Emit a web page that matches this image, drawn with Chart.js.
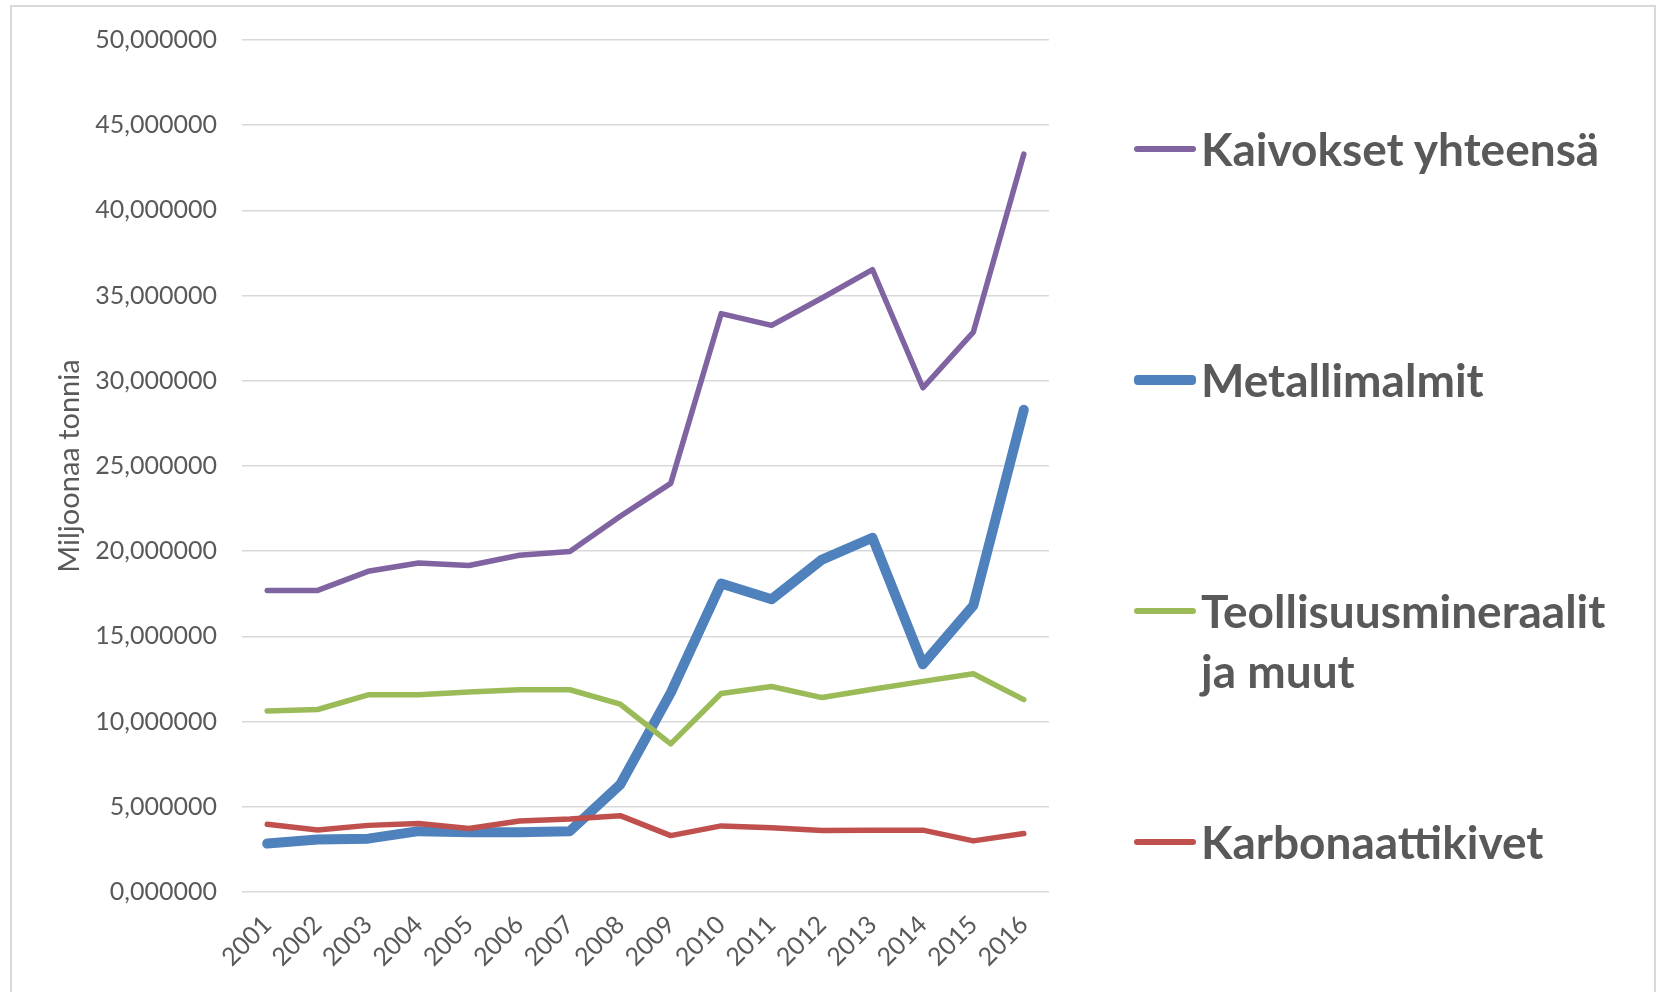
<!DOCTYPE html>
<html>
<head>
<meta charset="utf-8">
<script src="https://cdn.jsdelivr.net/npm/chart.js@4.4.0/dist/chart.umd.min.js"></script>
<style>
  html, body { margin: 0; padding: 0; background: #fff; }
  #wrap { position: relative; width: 1662px; height: 992px; overflow: hidden; }
  #frame { position: absolute; left: 10px; top: 5px; width: 1646px; height: 1020px; border: 2px solid #d9d9d9; box-sizing: border-box; }
  #chart { position: absolute; left: 0; top: 0; }
  #legend { position: absolute; left: 1134px; top: 119px; font-family: Lato; font-weight: bold; font-size: 46px; color: #595959; }
  .item { height: 231px; display: flex; align-items: flex-start; }
  .swatch { width: 62px; border-radius: 4px; flex: none; }
  .label { width: 420px; line-height: 60px; margin-left: 5px; }
</style>
</head>
<body>
<div id="wrap">
  <div id="frame"></div>
  <canvas id="chart" width="1662" height="992"></canvas>
  <div id="legend"></div>
</div>
<script>
// Louhinta vuosittain, miljoonaa tonnia
const years = ['2001', '2002', '2003', '2004', '2005', '2006', '2007', '2008',
               '2009', '2010', '2011', '2012', '2013', '2014', '2015', '2016'];
const kaivokset = [17.7, 17.7, 18.82, 19.31, 19.16, 19.76, 19.98, 22.05,
                   23.98, 33.94, 33.25, 34.86, 36.53, 29.59, 32.86, 43.3];
const metallimalmit = [2.84, 3.08, 3.13, 3.57, 3.51, 3.51, 3.57, 6.31,
                       11.69, 18.1, 17.18, 19.51, 20.79, 13.36, 16.81, 28.3];
const teollisuus = [10.62, 10.71, 11.57, 11.57, 11.73, 11.87, 11.87, 11.02,
                    8.69, 11.65, 12.06, 11.41, 11.9, 12.36, 12.81, 11.29];
const karbonaatti = [3.97, 3.64, 3.91, 4.02, 3.73, 4.17, 4.28, 4.48,
                     3.31, 3.88, 3.77, 3.61, 3.63, 3.63, 3.0, 3.43];

const textColor = '#595959';

function series(label, data, color, width, order) {
    return {
        label: label, data: data, borderColor: color, backgroundColor: color,
        borderWidth: width, pointRadius: 0, tension: 0,
        borderJoinStyle: 'round', borderCapStyle: 'round', order: order
    };
}

const chart = new Chart(document.getElementById('chart').getContext('2d'), {
    type: 'line',
    data: {
        labels: years,
        datasets: [
            series('Kaivokset yhteensä', kaivokset, '#8064a2', 5.5, 4),
            series('Metallimalmit', metallimalmit, '#4f81bd', 10, 3),
            series('Teollisuusmineraalit ja muut', teollisuus, '#9bbb59', 5.5, 2),
            series('Karbonaattikivet', karbonaatti, '#c0504d', 5.5, 1)
        ]
    },
    options: {
        responsive: false,
        animation: false,
        layout: {padding: {left: 52, right: 613, top: 39, bottom: 0}},
        plugins: {legend: {display: false}, tooltip: {enabled: false}},
        scales: {
            x: {
                offset: true,
                grid: {display: false},
                border: {display: false},
                ticks: {color: textColor, font: {family: 'Lato', size: 25},
                        minRotation: 45, maxRotation: 45, autoSkip: false, padding: 10},
                afterFit: s => { s.height = 100; }
            },
            y: {
                min: 0, max: 50,
                grid: {color: '#d9d9d9', lineWidth: 1.5, drawTicks: false},
                border: {display: false},
                ticks: {stepSize: 5, color: textColor, font: {family: 'Lato', size: 25}, padding: 25,
                        callback: v => v.toFixed(6).replace('.', ',')},
                title: {display: true, text: 'Miljoonaa tonnia', color: textColor,
                        font: {family: 'Lato', size: 29}, padding: 0},
                afterFit: s => { s.width = 190; }
            }
        }
    }
});

// HTML legend from the datasets
document.getElementById('legend').innerHTML = chart.data.datasets.map(d => `
    <div class="item">
        <div class="swatch" style="height:${d.borderWidth}px;margin-top:${30 - d.borderWidth / 2}px;background:${d.borderColor}"></div>
        <div class="label">${d.label}</div>
    </div>`).join('');
</script>
</body>
</html>
